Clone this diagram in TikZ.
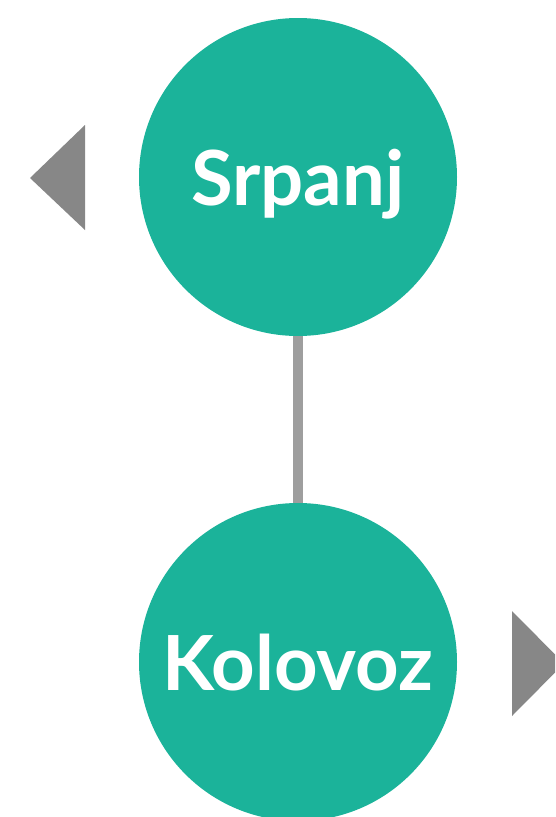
\documentclass[tikz,border=0pt]{standalone}
\usepackage{fontspec}
\setmainfont{Lato}
\definecolor{teal1}{HTML}{1BB39A}
\definecolor{tri}{HTML}{878787}
\definecolor{conn}{HTML}{9E9E9E}
\begin{document}
\begin{tikzpicture}[x=1pt,y=-1pt,
  month/.style={circle,fill=teal1,minimum size=318pt,inner sep=0pt,text=white,text depth=0pt,font=\fontsize{76}{84}\selectfont\bfseries},
  arrowtri/.style={fill=tri}]
\useasboundingbox (0,0) rectangle (555,817);
\begin{scope}
\clip (0,0) rectangle (555,817);
\node[month] (srpanj) at (298,177) {Srpanj};
\node[month] (kolovoz) at (298,662) {Kolovoz};
\draw[conn,line width=10pt] (srpanj.south) -- (kolovoz.north);
\fill[arrowtri] (30,178) -- (85,125) -- (85,230) -- cycle;
\fill[arrowtri] (564,663.5) -- (512,611) -- (512,716) -- cycle;
\end{scope}
\end{tikzpicture}
\end{document}
